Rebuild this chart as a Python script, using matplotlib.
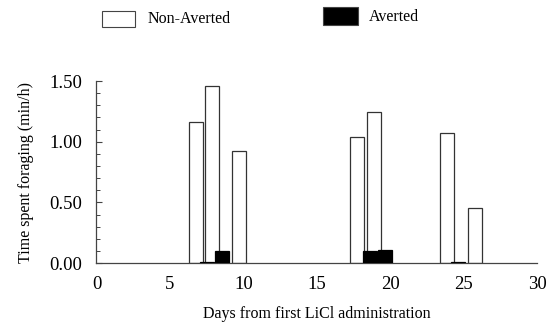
import matplotlib
matplotlib.use('Agg')
import matplotlib.pyplot as plt
from matplotlib.patches import Rectangle
from matplotlib.ticker import MultipleLocator, FormatStrFormatter

plt.rcParams['font.family'] = ['Liberation Serif', 'DejaVu Serif']

# Data
nonaverted_day = [6.78, 7.83, 9.73, 17.72, 18.88, 23.83, 25.77]
nonaverted_val = [1.16, 1.46, 0.92, 1.04, 1.245, 1.07, 0.45]
averted_day = [7.55, 8.55, 18.63, 19.62, 24.60]
averted_val = [0.012, 0.10, 0.10, 0.105, 0.012]
x_ticks = [0, 5, 10, 15, 20, 25, 30]
y_ticks = [0.0, 0.5, 1.0, 1.5]

fig = plt.figure(figsize=(5.53, 3.24), dpi=100)
ax = fig.add_axes([0.1745, 0.188, 0.797, 0.562])

ax.bar(nonaverted_day, nonaverted_val, width=0.95, color='white',
       edgecolor='#333333', linewidth=0.9, zorder=2)
ax.bar(averted_day, averted_val, width=0.95, color='black',
       edgecolor='black', linewidth=0.9, zorder=3)

ax.set_xlim(0, 30)
ax.set_ylim(0, 1.5)
for s in ['top', 'right']:
    ax.spines[s].set_visible(False)
for s in ['left', 'bottom']:
    ax.spines[s].set_color('#444444')
    ax.spines[s].set_linewidth(0.9)

ax.set_xticks(x_ticks)
ax.set_yticks(y_ticks)
ax.yaxis.set_major_formatter(FormatStrFormatter('%.2f'))
ax.yaxis.set_minor_locator(MultipleLocator(0.1))
ax.tick_params(axis='x', length=0, pad=9, labelsize=13.5)
ax.tick_params(axis='y', which='major', direction='in', length=4, width=0.8,
               pad=10, labelsize=13.5, color='#444444')
ax.tick_params(axis='y', which='minor', direction='in', length=3, width=0.7,
               color='#444444')

ax.set_xlabel('Days from first LiCl administration', fontsize=11.5, labelpad=10)
ax.set_ylabel('Time spent foraging (min/h)', fontsize=11.5, labelpad=11)

# Legend (manual, figure coordinates)
W, H = 553.0, 324.0
def box(x0, y0, x1, y1, fc):
    fig.patches.append(Rectangle((x0 / W, 1 - y1 / H), (x1 - x0) / W, (y1 - y0) / H,
                                 transform=fig.transFigure, facecolor=fc,
                                 edgecolor='#444444', linewidth=0.8))
box(102, 11, 135, 27, 'white')
box(323, 7, 358, 25, 'black')
fig.text(148 / W, 1 - 19 / H, 'Non-Averted', fontsize=11.5, va='center', ha='left')
fig.text(369 / W, 1 - 17 / H, 'Averted', fontsize=11.5, va='center', ha='left')

fig.savefig('out.png', dpi=100)
